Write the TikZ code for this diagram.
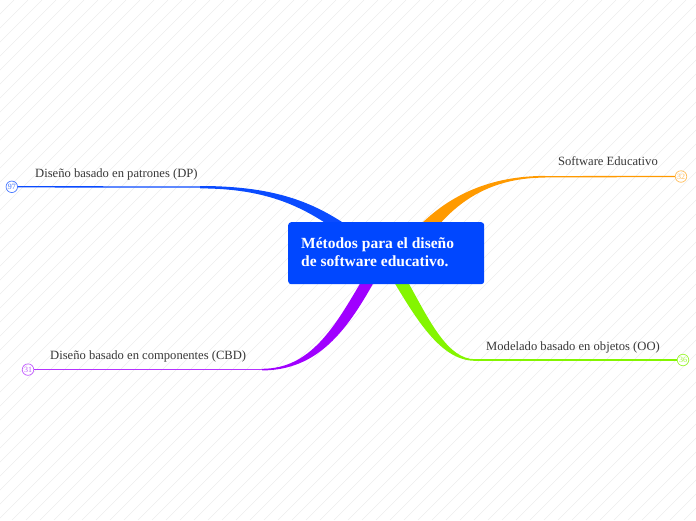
\documentclass[tikz,border=0pt]{standalone}
\usepackage{fontspec}
\setmainfont{Liberation Serif}
\begin{document}
\begin{tikzpicture}[x=1pt,y=-1pt,
  lbl/.style={font=\fontsize{12.6}{14}\selectfont, text=black!78, inner sep=0pt, anchor=base},
  badge/.style={circle, draw=#1, line width=0.7pt, minimum size=11.5pt, inner sep=0pt, text=#1, font=\fontsize{8}{8}\selectfont},
  lineseg/.style={draw=#1, line width=1.3pt},
  hatch/.style={draw=black!9, line width=0.35pt}
]
\definecolor{cblue}{HTML}{0A4BFF}
\definecolor{corange}{HTML}{FF9A00}
\definecolor{cpurple}{HTML}{A000FF}
\definecolor{cpurplel}{HTML}{B533FF}
\definecolor{cgreen}{HTML}{84F500}
\definecolor{boxblue}{HTML}{0047FF}
\useasboundingbox (0,0) rectangle (696,520);
\fill[white] (0,0) rectangle (696,520);
\begin{scope}
\clip (0,0) rectangle (696,520);
\foreach \c in {0,14,...,1230} {
  \draw[hatch] (\c,0) -- ({\c-520},520);
}
\end{scope}

% coordinates for branch ends
\coordinate (bl) at (205,187);
\coordinate (ol) at (545,176.7);
\coordinate (pl) at (262,369.6);
\coordinate (gl) at (475,360);

% tapered branches
\fill[cblue] (200,186) .. controls (270,186) and (310,200) .. (348,226) -- (330,226) .. controls (300,206) and (265,188.4) .. (200,188.4) -- cycle;
\fill[corange] (545,175.9) .. controls (490,176) and (450,195) .. (419,226) -- (438,226) .. controls (462,198) and (495,177.6) .. (545,177.6) -- cycle;
\fill[cpurple] (374,282) .. controls (347,330) and (318,370.4) .. (262,370.4) -- (262,368.8) .. controls (310,368.8) and (334,328) .. (361,282) -- cycle;
\fill[cgreen] (394,282) .. controls (418,322) and (442,360.8) .. (475,360.8) -- (475,359.2) .. controls (448,359.2) and (430,322) .. (408,282) -- cycle;

% badges
\node[badge=cblue!75] (b97) at (11.8,186.8) {97};
\node[badge=corange!65] (b32) at (681,176.5) {32};
\node[badge=cpurple!65] (b31) at (28,369.6) {31};
\node[badge=cgreen!80] (b36) at (683,360) {36};

% thin lines
\draw[lineseg=cblue] (b97) -- (bl);
\draw[lineseg=corange] (ol) -- (b32);
\draw[lineseg=cpurplel] (b31) -- (pl);
\draw[lineseg=cgreen] (gl) -- (b36);

% central node
\node[fill=boxblue, rounded corners=3pt, minimum width=196pt, minimum height=62pt, anchor=north west, inner sep=0pt] (center) at (288,222) {};
\node[anchor=north west, inner sep=0pt, text=white, align=left, font=\bfseries\fontsize{15.5}{18}\selectfont] (ctext) at (301,237) {Métodos para el diseño\\de software educativo.};

% labels
\node[lbl, anchor=base west] (tdp) at (35,177) {Diseño basado en patrones (DP)};
\node[lbl, anchor=base east] (tse) at (658,165.5) {Software Educativo};
\node[lbl, anchor=base west] (tcbd) at (50,359) {Diseño basado en componentes (CBD)};
\node[lbl, anchor=base east] (too) at (660,350.5) {Modelado basado en objetos (OO)};
\end{tikzpicture}
\end{document}
